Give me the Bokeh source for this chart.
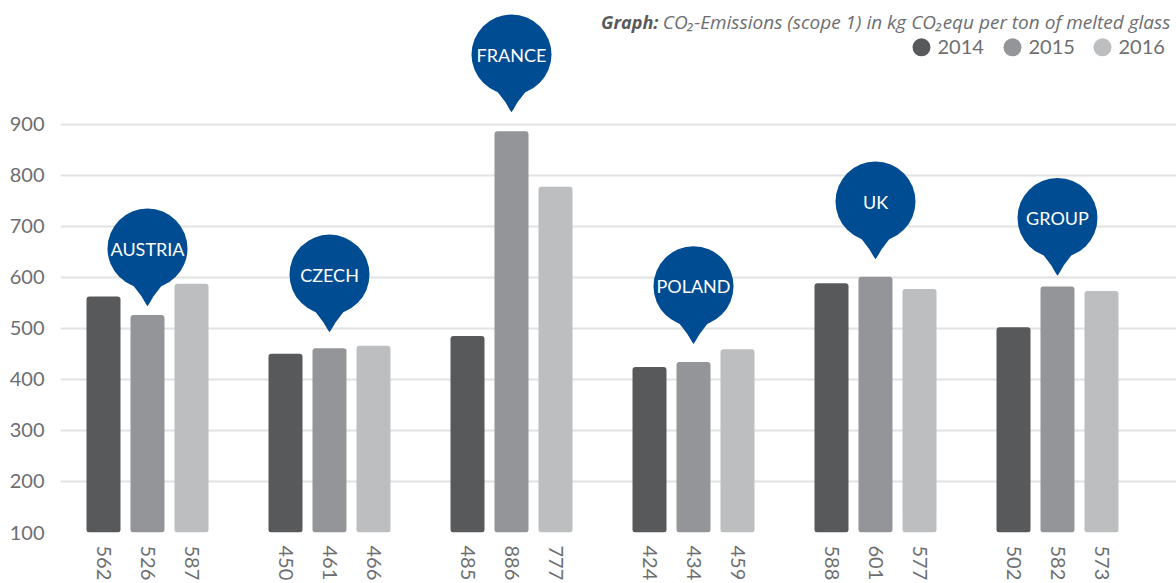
from bokeh.plotting import figure
from bokeh.models import FixedTicker, Range1d, ColumnDataSource
from bokeh.core.properties import value
from bokeh.embed import file_html
from bokeh.resources import INLINE

# --- data -------------------------------------------------------------
countries = ["AUSTRIA", "CZECH", "FRANCE", "POLAND", "UK", "GROUP"]
years = ["2014", "2015", "2016"]
emissions_2014 = [562, 450, 485, 424, 588, 502]
emissions_2015 = [526, 461, 886, 434, 601, 582]
emissions_2016 = [587, 466, 777, 459, 577, 573]
y_ticks = [100, 200, 300, 400, 500, 600, 700, 800, 900]

# --- styling / layout ---------------------------------------------------
year_colors = ["#58595b", "#939598", "#bcbec0"]
bubble_color = "#004c93"
text_gray = "#6d6e71"
font = value("Lato")

GROUP_STEP = 182      # horizontal distance between country groups
BAR_STEP = 44         # distance between the bars inside a group
BAR_W = 34
Y_PX = 0.5125         # screen pixels per unit on the value axis

# height of each callout tip above the chart floor (value units)
tip_levels = [543, 492, 923, 469, 635, 603]

series = [emissions_2014, emissions_2015, emissions_2016]

p = figure(width=1176, height=583,
           x_range=Range1d(-87, 1029), y_range=Range1d(100, 1142),
           output_backend="svg", toolbar_location=None,
           min_border_left=60, min_border_right=0,
           min_border_top=0, min_border_bottom=44)
p.outline_line_color = None
p.background_fill_color = "white"
p.border_fill_color = "white"

# bars
tick_pos, tick_text = [], []
for j, (vals, col) in enumerate(zip(series, year_colors)):
    xs = [GROUP_STEP * i + BAR_STEP * (j - 1) for i in range(len(countries))]
    src = ColumnDataSource(dict(x=xs, top=vals))
    p.vbar(x="x", top="top", bottom=0, width=BAR_W, source=src,
           fill_color=col, line_color=None, border_radius=3)
    tick_pos += xs
    tick_text += [str(v) for v in vals]

# axes
p.xgrid.visible = False
p.ygrid.ticker = FixedTicker(ticks=y_ticks)
p.ygrid.grid_line_color = "#e1e2e3"
p.ygrid.grid_line_width = 2

p.yaxis.ticker = FixedTicker(ticks=y_ticks)
p.yaxis.axis_line_color = None
p.yaxis.major_tick_line_color = None
p.yaxis.minor_tick_line_color = None
p.yaxis.major_label_text_font = "Lato"
p.yaxis.major_label_text_font_size = "20px"
p.yaxis.major_label_text_color = text_gray
p.yaxis.major_label_standoff = 10

p.xaxis.ticker = FixedTicker(ticks=tick_pos)
p.xaxis.major_label_overrides = {int(x): t for x, t in zip(tick_pos, tick_text)}
p.xaxis.major_label_orientation = "vertical"
p.xaxis.axis_line_color = None
p.xaxis.major_tick_line_color = None
p.xaxis.minor_tick_line_color = None
p.xaxis.major_label_text_font = "Lato"
p.xaxis.major_label_text_font_size = "20px"
p.xaxis.major_label_text_color = text_gray
p.xaxis.major_label_standoff = 7

# callout bubbles with a pointed tail
tail_px = [(-20, 30), (-12, 40), (-6, 48), (-2, 55), (0, 58),
           (2, 55), (6, 48), (12, 40), (20, 30)]
cx, cy, txs, tys = [], [], [], []
for i, tip in enumerate(tip_levels):
    x0 = GROUP_STEP * i
    y_center = tip + 58 / Y_PX
    cx.append(x0)
    cy.append(y_center)
    txs.append([x0 + dx for dx, dy in tail_px])
    tys.append([y_center - dy / Y_PX for dx, dy in tail_px])
p.patches(xs=txs, ys=tys, fill_color=bubble_color, line_color=None)
p.scatter(x=cx, y=cy, size=80, fill_color=bubble_color, line_color=None)
p.text(x=cx, y=cy, text=countries, text_font=font, text_font_size="18px",
       text_color="white", text_align="center", text_baseline="middle")

# title
def px_x(px):
    return px - 60 - 87

def px_y(py):
    return 100 + (534 - py) / Y_PX

p.text(x=[px_x(658)], y=[px_y(22)], text=["Graph:"], text_font=value("Open Sans"),
       text_font_size="18px", text_font_style="bold italic",
       text_color="#58595b", text_align="right", text_baseline="alphabetic")
p.text(x=[px_x(1170)], y=[px_y(22)],
       text=["CO₂-Emissions (scope 1) in kg CO₂equ per ton of melted glass"],
       text_font=value("Open Sans"), text_font_size="19px",
       text_font_style="italic",
       text_color=text_gray, text_align="right", text_baseline="alphabetic")

# legend
leg_x = [px_x(921), px_x(1012), px_x(1102)]
p.scatter(x=leg_x, y=[px_y(47)] * 3, size=18, fill_color=year_colors,
          line_color=None)
p.text(x=[x + 16 for x in leg_x], y=[px_y(47)] * 3, text=years,
       text_font=font, text_font_size="20px", text_color=text_gray,
       text_align="left", text_baseline="middle")

open("out.html", "w").write(file_html(p, INLINE))
